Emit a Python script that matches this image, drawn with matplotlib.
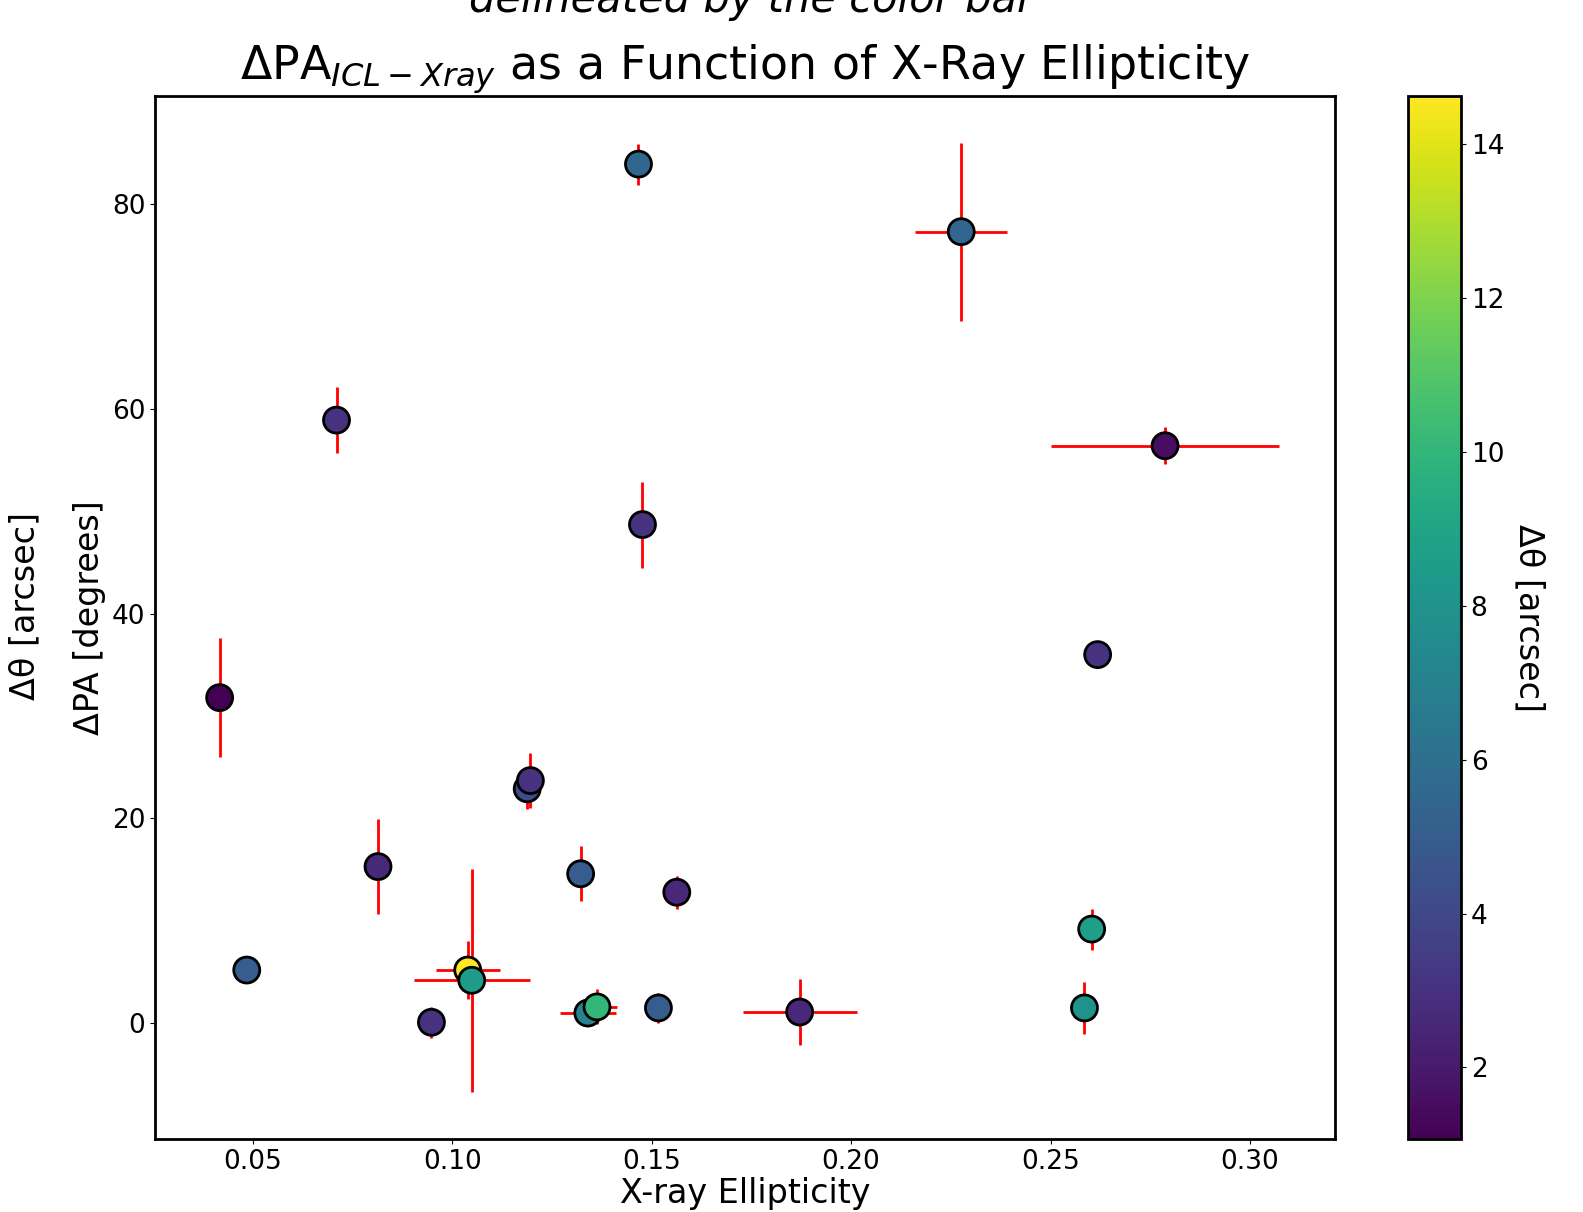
import numpy as np
import matplotlib
matplotlib.use("Agg")
from matplotlib import pyplot as plt

# X-ray ellipticity, delta PA, errors, delta theta (colour)
ell = [0.0417, 0.0485, 0.0710, 0.0814, 0.0948, 0.1039, 0.1049, 0.1188, 0.1196, 0.1322, 0.1340,
       0.1363, 0.1467, 0.1477, 0.1517, 0.1563, 0.1871, 0.2276, 0.2585, 0.2603, 0.2618, 0.2787]
ell_err = [0.0, 0.0, 0.0, 0.0015, 0.0, 0.008, 0.0145, 0.0, 0.002, 0.0, 0.007,
           0.005, 0.0, 0.0, 0.0, 0.0, 0.0143, 0.0115, 0.001, 0.002, 0.0, 0.0285]
dpa = [31.8, 5.2, 58.9, 15.3, 0.1, 5.2, 4.2, 22.9, 23.7, 14.6, 1.0,
       1.6, 83.9, 48.7, 1.5, 12.8, 1.1, 77.3, 1.5, 9.2, 36.0, 56.4]
dpa_err = [5.8, 1.2, 3.2, 4.6, 1.5, 2.8, 10.9, 2.0, 2.7, 2.7, 0.5,
           1.7, 2.0, 4.2, 1.5, 1.6, 3.2, 8.7, 2.5, 2.0, 0.8, 1.8]
dtheta = [1.07, 5.0, 3.0, 2.6, 3.0, 14.63, 8.5, 4.2, 3.0, 5.0, 7.2,
          10.0, 5.5, 3.0, 5.0, 2.6, 2.6, 5.5, 8.0, 8.6, 3.0, 1.5]

fig = plt.figure(figsize=(15.83, 12.12), dpi=100)
ax = fig.add_axes([155 / 1583, 1 - 1139 / 1212, 1180 / 1583, 1043 / 1212])
cax = fig.add_axes([1408 / 1583, 1 - 1139 / 1212, 53 / 1583, 1043 / 1212])

ax.errorbar(ell, dpa, xerr=ell_err, yerr=dpa_err, fmt='none', ecolor='red', elinewidth=2, zorder=1)
sc = ax.scatter(ell, dpa, c=dtheta, cmap='viridis', s=350, edgecolors='black', linewidths=2,
                vmin=1.07, vmax=14.63, zorder=2)

ax.set_xlim(0.0255, 0.3213)
ax.set_ylim(-11.3, 90.55)
ax.set_xticks([0.05, 0.10, 0.15, 0.20, 0.25, 0.30])
ax.set_yticks([0, 20, 40, 60, 80])
ax.tick_params(labelsize=19)
for s in ax.spines.values():
    s.set_linewidth(2)
ax.set_xlabel("X-ray Ellipticity", fontsize=24, labelpad=2)
ax.set_ylabel("ΔPA [degrees]", fontsize=24)
ax.set_title(r"$\Delta\mathrm{PA}_{ICL-Xray}$ as a Function of X-Ray Ellipticity", fontsize=33, pad=12)

cb = fig.colorbar(sc, cax=cax)
cb.ax.tick_params(labelsize=19)
cb.outline.set_linewidth(2)
cb.set_label("Δθ [arcsec]", fontsize=24, rotation=270, labelpad=30)

fig.text(25 / 1583, 0.5, "Δθ [arcsec]", fontsize=24, rotation=90, va='center', ha='center')
fig.text(0.475, 1.0, "delineated by the color bar", fontsize=30, style='italic', ha='center', va='center')

fig.savefig("out.png", dpi=100)
